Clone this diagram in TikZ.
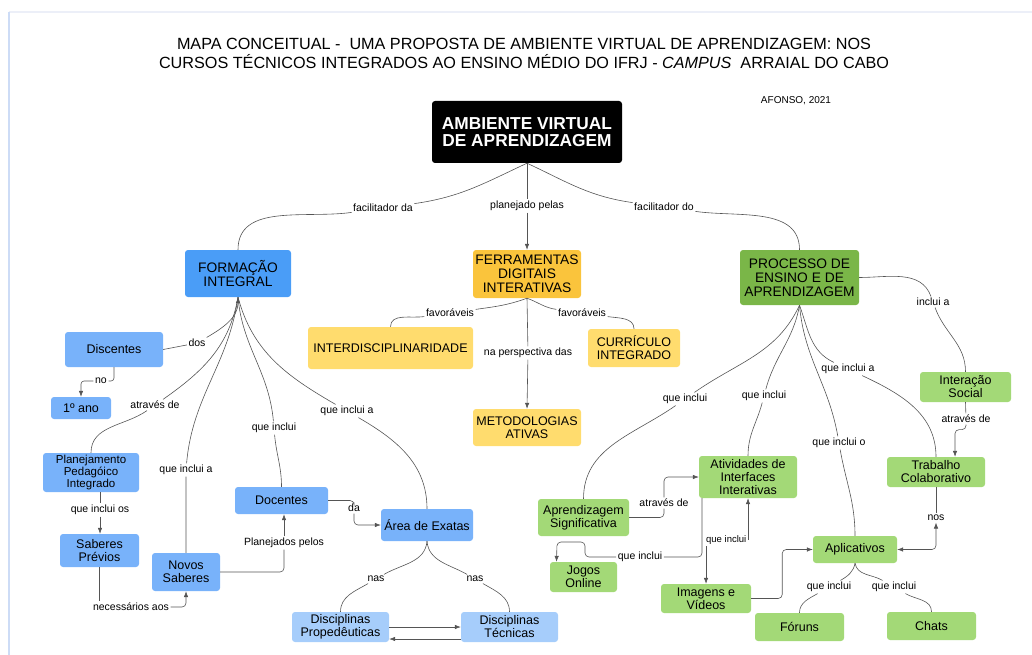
\documentclass[tikz,border=0pt]{standalone}
\usepackage{fontspec}
\setmainfont{Liberation Sans}
\usetikzlibrary{arrows.meta, positioning}
\definecolor{formblue}{RGB}{74,157,247}
\definecolor{midblue}{RGB}{120,178,250}
\definecolor{paleblue}{RGB}{166,205,251}
\definecolor{ferrorange}{RGB}{250,196,60}
\definecolor{paleyellow}{RGB}{255,220,110}
\definecolor{procgreen}{RGB}{122,182,72}
\definecolor{palegreen}{RGB}{163,217,119}
\definecolor{linkgray}{RGB}{85,85,85}
\definecolor{frametop}{RGB}{236,239,248}
\definecolor{frameleft}{RGB}{205,220,246}

\begin{document}
\begin{tikzpicture}[x=1pt, y=1pt,
  concept/.style={rounded corners=3pt, align=center, inner sep=0pt,
                  font=\fontsize{12.5}{13}\selectfont},
  mainconcept/.style={concept, font=\fontsize{13.8}{14}\selectfont},
  linktext/.style={inner sep=1.5pt, font=\fontsize{10.5}{11}\selectfont},
  link/.style={draw=linkgray, line width=0.6pt},
  arr/.style={-{Latex[length=6pt, width=4.5pt]}}]
  \useasboundingbox (0,0) rectangle (1032,-655);
  \draw[frametop, line width=1.5pt] (9,-12) -- (1032,-12);
  \draw[frameleft, line width=2pt] (9,-12) -- (9,-655);

  % Title
  \node[font=\fontsize{16.2}{19}\selectfont, align=center] (title) at (524,-53)
    {MAPA CONCEITUAL -\ \ UMA PROPOSTA DE AMBIENTE VIRTUAL DE APRENDIZAGEM: NOS\\
     CURSOS TÉCNICOS INTEGRADOS AO ENSINO MÉDIO DO IFRJ - \textit{CAMPUS}\ \ ARRAIAL DO CABO};
  \node[font=\fontsize{10}{11}\selectfont] (autor) at (796,-101) {AFONSO, 2021};

  % Root
  \node[concept, fill=black, text=white, font=\fontsize{17.3}{17}\selectfont\bfseries,
        minimum width=190, minimum height=62] (root) at (527,-132)
    {AMBIENTE VIRTUAL\\DE APRENDIZAGEM};

  % Blue branch
  \node[mainconcept, fill=formblue, minimum width=106, minimum height=47] (formacao) at (238,-273.5) {FORMAÇÃO\\INTEGRAL};
  \node[concept, fill=midblue, minimum width=98, minimum height=35] (discentes) at (114,-349.5) {Discentes};
  \node[concept, fill=midblue, minimum width=60, minimum height=22] (ano) at (81,-408) {1º ano};
  \node[concept, fill=midblue, minimum width=96, minimum height=39,
        font=\fontsize{11.5}{12}\selectfont] (planej) at (91,-472.5) {Planejamento\\Pedagóico\\Integrado};
  \node[concept, fill=midblue, minimum width=79, minimum height=33] (saberesprev) at (99.5,-550.5) {Saberes\\Prévios};
  \node[concept, fill=midblue, minimum width=68, minimum height=38] (novos) at (186,-572) {Novos\\Saberes};
  \node[concept, fill=midblue, minimum width=93, minimum height=27] (docentes) at (281.5,-500.5) {Docentes};
  \node[concept, fill=midblue, minimum width=92, minimum height=32] (exatas) at (427,-525) {Área de Exatas};
  \node[concept, fill=paleblue, minimum width=97, minimum height=30] (proped) at (340.5,-627) {Disciplinas\\Propedêuticas};
  \node[concept, fill=paleblue, minimum width=97, minimum height=30] (tecnicas) at (509.5,-627) {Disciplinas\\Técnicas};

  % Yellow branch
  \node[mainconcept, fill=ferrorange, minimum width=108, minimum height=48] (ferramentas) at (527,-274) {FERRAMENTAS\\DIGITAIS\\INTERATIVAS};
  \node[concept, fill=paleyellow, minimum width=165, minimum height=42] (interdisc) at (390.5,-348) {INTERDISCIPLINARIDADE};
  \node[concept, fill=paleyellow, minimum width=92, minimum height=38] (curriculo) at (634,-348) {CURRÍCULO\\INTEGRADO};
  \node[concept, fill=paleyellow, minimum width=108, minimum height=37] (metodologias) at (527,-427.5) {METODOLOGIAS\\ATIVAS};

  % Green branch
  \node[mainconcept, fill=procgreen, minimum width=119, minimum height=55] (processo) at (799.5,-277.5) {PROCESSO DE\\ENSINO E DE\\APRENDIZAGEM};
  \node[concept, fill=palegreen, minimum width=91, minimum height=30] (interacao) at (965.5,-387) {Interação\\Social};
  \node[concept, fill=palegreen, minimum width=98, minimum height=30] (trabalho) at (936,-472) {Trabalho\\Colaborativo};
  \node[concept, fill=palegreen, minimum width=98, minimum height=42] (atividades) at (748,-477) {Atividades de\\Interfaces\\Interativas};
  \node[concept, fill=palegreen, minimum width=91, minimum height=37] (aprendsig) at (583.5,-517.5) {Aprendizagem\\Significativa};
  \node[concept, fill=palegreen, minimum width=67, minimum height=30] (jogos) at (583.5,-577) {Jogos\\Online};
  \node[concept, fill=palegreen, minimum width=90, minimum height=29] (imagens) at (706,-598.5) {Imagens e\\Vídeos};
  \node[concept, fill=palegreen, minimum width=84, minimum height=27] (aplicativos) at (855,-549.5) {Aplicativos};
  \node[concept, fill=palegreen, minimum width=89, minimum height=28] (foruns) at (799.5,-627) {Fóruns};
  \node[concept, fill=palegreen, minimum width=89, minimum height=28] (chats) at (931.5,-626) {Chats};

  % Linking phrases
  \foreach \n/\x/\y/\txt in {lFacDa/383/208/facilitador da, lPlan/527/206/planejado pelas,
      lFacDo/664/207/facilitador do, lDos/197/343/dos, lNo/101/381/no,
      lAtraves1/155/405/através de, lQueInclA1/186/470/que inclui a,
      lQueIncl1/274/428/que inclui, lQueInclA2/347/411/que inclui a,
      lQueInclOs/100/510/que inclui os, lNecess/131/607/necessários aos,
      lPlanejados/284/543/Planejados pelos, lDa/354/508/da,
      lNas1/376/579/nas, lNas2/475/579/nas,
      lFav1/450/313/favoráveis, lFav2/582/313/favoráveis, lPersp/528/353/na perspectiva das,
      lInclA/933/302/inclui a, lQI1/685/399/que inclui, lQI2/764/396/que inclui,
      lQIa/848/369/que inclui a, lQIo/839/443/que inclui o, lAtraves2/966/419/através de,
      lAtraves3/664/503/através de, lQI3/640/557/que inclui, lNos/936/518/nos,
      lQI5/829/587/que inclui, lQI6/894/587/que inclui}
    \node[linktext] (\n) at (\x,-\y) {\txt};
  \node[linktext, font=\fontsize{9.5}{10}\selectfont, anchor=east] (lQI4) at (748,-540) {que inclui};

  % Root links
  \draw[link] (root.south) to[out=-155,in=8] (lFacDa) to[out=188,in=90] (formacao.north);
  \draw[link] (root.south) -- (lPlan);
  \draw[link,arr] (lPlan) -- (ferramentas.north);
  \draw[link] (root.south) to[out=-25,in=172] (lFacDo) to[out=-8,in=90] (processo.north);

  % Formacao links
  \draw[link,arr] (discentes.east) -- (lDos) to[out=30,in=-90] (formacao.south);
  \draw[link,rounded corners=3pt] (discentes.south) |- (lNo.east);
  \draw[link,arr,rounded corners=3pt] (lNo.west) -| (ano.north);
  \draw[link] (formacao.south) to[out=-100,in=35] (lAtraves1) to[out=215,in=90] (planej.north);
  \draw[link] (formacao.south) to[out=-98,in=85] (lQueInclA1) to[out=-90,in=90] (novos.north);
  \draw[link] (formacao.south) to[out=-85,in=95] (lQueIncl1) to[out=-85,in=90] (docentes.north);
  \draw[link] (formacao.south) to[out=-75,in=150] (lQueInclA2) to[out=-30,in=90] (exatas.north);
  \draw[link] (planej.south -| lQueInclOs) -- (lQueInclOs);
  \draw[link,arr] (lQueInclOs) -- (lQueInclOs |- saberesprev.north);
  \draw[link] (saberesprev.south) -- (saberesprev.south |- lNecess.north);
  \draw[link,arr,rounded corners=4pt] (lNecess.east) -| (novos.south);
  \draw[link,rounded corners=4pt] (novos.east) -| (lPlanejados.south);
  \draw[link,arr] (lPlanejados.north) -- (lPlanejados.north |- docentes.south);
  \draw[link,rounded corners=4pt] (docentes.east) -| (lDa.north);
  \draw[link,arr,rounded corners=4pt] (lDa.south) |- (exatas.west);
  \draw[link] (exatas.south) to[out=-95,in=30] (lNas1) to[out=210,in=90] (proped.north);
  \draw[link] (exatas.south) to[out=-85,in=150] (lNas2) to[out=-30,in=90] (tecnicas.north);
  \draw[link,arr] (proped.east) -- (tecnicas.west);
  \draw[link,arr] ([yshift=-12pt]tecnicas.west) -- ([yshift=-12pt]proped.east);

  % Ferramentas links
  \draw[link] (ferramentas.south) to[out=-160,in=8] (lFav1) to[out=188,in=90] (interdisc.north);
  \draw[link] (ferramentas.south) to[out=-20,in=172] (lFav2) to[out=-8,in=90] (curriculo.north);
  \draw[link] (ferramentas.south) -- (lPersp);
  \draw[link,arr] (lPersp) -- (metodologias.north);

  % Processo links
  \draw[link] (processo.east) to[out=0,in=110] (lInclA) to[out=-70,in=90] (interacao.north);
  \draw[link] (processo.south) to[out=-115,in=35] (lQI1) to[out=215,in=90] (aprendsig.north);
  \draw[link] (processo.south) to[out=-100,in=75] (lQI2) to[out=-105,in=90] (atividades.north);
  \draw[link] (processo.south) to[out=-85,in=100] (lQIo) to[out=-80,in=90] (aplicativos.north);
  \draw[link] (processo.south) to[out=-70,in=155] (lQIa) to[out=-25,in=90] (trabalho.north);
  \draw[link] (interacao.south) -- (lAtraves2);
  \draw[link,arr,rounded corners=4pt] (lAtraves2.south) -- ++(0,-5) -| ([xshift=19pt]trabalho.north);
  \draw[link,rounded corners=4pt] (aprendsig.east) -| (lAtraves3.south);
  \draw[link,arr,rounded corners=4pt] (lAtraves3.north) |- (atividades.west);
  \draw[link,rounded corners=4pt] ([xshift=-46pt]atividades.south) |- (lQI3.east);
  \draw[link,arr,rounded corners=4pt] (lQI3.west) -- (585,-557) |- (557,-542) -- ([xshift=-27pt]jogos.north);
  \draw[link,arr] (lQI4.east) -- (lQI4.east |- atividades.south);
  \draw[link,arr] (imagens.north |- lQI4.south) -- (imagens.north);
  \draw[link,arr,rounded corners=4pt] (imagens.east) -- ++(31,0) |- (aplicativos.west);
  \draw[link] (trabalho.south) -- (lNos);
  \draw[link,{Latex[length=6pt,width=4.5pt]}-{Latex[length=6pt,width=4.5pt]},rounded corners=4pt]
    (lNos.south) |- (aplicativos.east);
  \draw[link] (aplicativos.south) to[out=-100,in=30] (lQI5) to[out=210,in=90] (foruns.north);
  \draw[link] (aplicativos.south) to[out=-80,in=150] (lQI6) to[out=-30,in=90] (chats.north);
\end{tikzpicture}
\end{document}
